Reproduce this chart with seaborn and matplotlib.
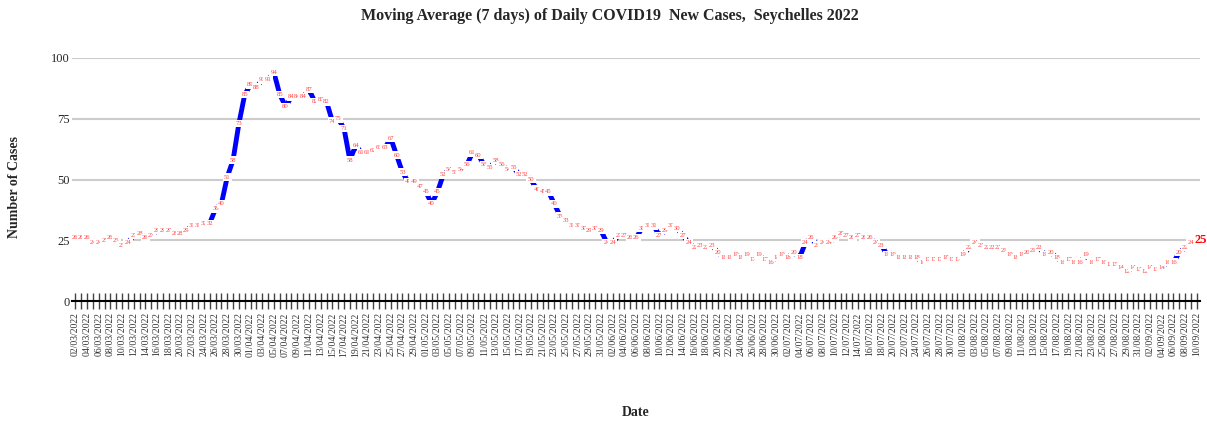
import matplotlib
matplotlib.use('Agg')
import matplotlib.pyplot as plt
import pandas as pd
import seaborn as sns

# 7-day moving average of daily new cases
start_date = '2022-03-02'
cases = [
    26, 26, 26, 24, 24, 25, 26, 25, 23, 24,
    27, 28, 26, 27, 29, 29, 29, 28, 28, 29,
    31, 31, 32, 32, 38, 40, 51, 58, 73, 85,
    89, 88, 91, 91, 94, 85, 80, 84, 84, 84,
    87, 82, 83, 82, 74, 75, 71, 58, 64, 61,
    61, 62, 63, 63, 67, 60, 53, 49, 49, 47,
    45, 40, 45, 52, 54, 53, 54, 56, 61, 60,
    56, 55, 58, 56, 54, 55, 52, 52, 50, 46,
    45, 45, 40, 35, 33, 31, 31, 30, 29, 30,
    29, 24, 24, 27, 27, 26, 26, 30, 31, 31,
    27, 29, 31, 30, 27, 24, 22, 23, 22, 23,
    20, 18, 18, 19, 18, 19, 17, 19, 17, 16,
    18, 19, 18, 20, 18, 24, 26, 23, 24, 24,
    26, 28, 27, 26, 27, 26, 26, 24, 23, 19,
    19, 18, 18, 18, 18, 16, 17, 17, 17, 18,
    17, 17, 19, 22, 24, 23, 22, 22, 22, 21,
    19, 18, 19, 20, 21, 22, 19, 20, 18, 16,
    17, 16, 16, 19, 16, 17, 16, 15, 15, 14,
    12, 14, 13, 12, 14, 13, 14, 16, 16, 20,
    22, 24, 25,
]
y_ticks = [0, 25, 50, 75, 100]

dates = pd.date_range(start_date, periods=len(cases), freq='D')
df = pd.DataFrame({'date': dates, 'cases': cases})

sns.set_style('white')
plt.rcParams['font.family'] = ['Liberation Serif', 'DejaVu Serif']

fig = plt.figure(figsize=(12.07, 4.23), dpi=100)
ax = fig.add_axes([0.06, 0.288, 0.934, 0.575])

sns.lineplot(data=df, x='date', y='cases', color='blue', linewidth=3.5, ax=ax)

# point labels with white boxes
for d, v in zip(df['date'][:-1], df['cases'][:-1]):
    ax.text(d, v, str(v), fontsize=4.8, color='#ff4040', ha='center', va='center',
            bbox=dict(boxstyle='square,pad=0.2', facecolor='white', edgecolor='none'))
ax.text(df['date'].iloc[-1] + pd.Timedelta(hours=18), df['cases'].iloc[-1], str(df['cases'].iloc[-1]),
        fontsize=9, fontweight='bold', color='red', ha='center', va='center',
        bbox=dict(boxstyle='square,pad=0.05', facecolor='white', edgecolor='none'))

ax.set_xlim(dates[0] - pd.Timedelta(hours=12), dates[-1] + pd.Timedelta(hours=12))
ax.set_ylim(0, 100)
ax.set_yticks(y_ticks)
ax.set_yticklabels([str(t) for t in y_ticks], fontsize=9)
ax.yaxis.grid(True, color='#cccccc', linewidth=1.5)
ax.set_axisbelow(True)

ax.set_xticks(dates[::2])
ax.set_xticklabels([d.strftime('%d/%m/%Y') for d in dates[::2]], rotation=90, fontsize=7, color='#333333')
ax.set_xticks(dates, minor=True)
ax.tick_params(axis='x', which='both', bottom=True, direction='inout', length=12, width=1,
               color='#444444', pad=2)
ax.tick_params(axis='y', length=0, pad=2)

for s in ['top', 'right', 'left']:
    ax.spines[s].set_visible(False)
ax.spines['bottom'].set_color('black')
ax.spines['bottom'].set_linewidth(1.5)

ax.set_xlabel('Date', fontsize=10, fontweight='bold', labelpad=0)
ax.xaxis.set_label_coords(0.5, -0.43)
ax.set_ylabel('Number of Cases', fontsize=10, fontweight='bold')
ax.yaxis.set_label_coords(-0.046, 0.47)
fig.suptitle('Moving Average (7 days) of Daily COVID19  New Cases,  Seychelles 2022',
             fontsize=11.5, fontweight='bold', x=0.505, y=0.98)

fig.savefig('out.png', dpi=100)
